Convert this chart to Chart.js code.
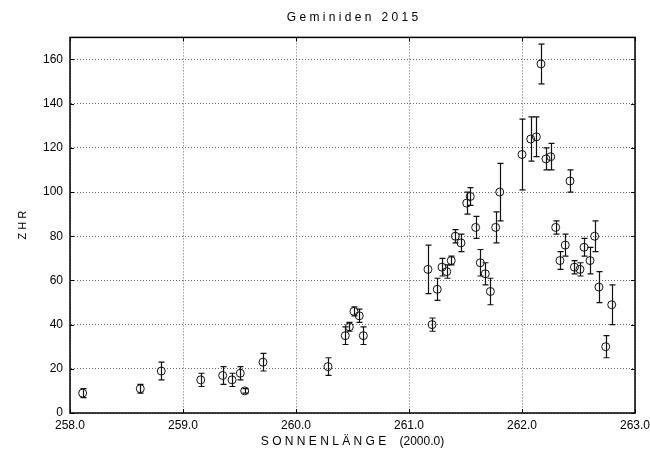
<!DOCTYPE html>
<html>
<head>
<meta charset="utf-8">
<script src="https://cdn.jsdelivr.net/npm/chart.js@4"></script>
<style>
  html, body { margin: 0; padding: 0; background: #fff; }
</style>
</head>
<body>
<canvas id="chart" width="650" height="451"></canvas>
<script>
// solar longitude (2000.0), ZHR and its error
const solarLong = [258.112, 258.622, 258.808, 259.157, 259.351, 259.434, 259.507, 259.546, 259.708,
  260.283, 260.436, 260.472, 260.513, 260.560, 260.596,
  261.168, 261.204, 261.250, 261.292, 261.334, 261.374, 261.410, 261.460, 261.511, 261.542,
  261.590, 261.631, 261.675, 261.720, 261.767, 261.803,
  262.000, 262.077, 262.127, 262.168, 262.212, 262.254, 262.298, 262.336, 262.383, 262.425,
  262.464, 262.513, 262.549, 262.602, 262.643, 262.681, 262.741, 262.794];
const zhr = [9, 11, 19, 15, 17, 15, 18, 10, 23,
  21, 35, 39, 46, 44, 35,
  65, 40, 56, 66, 64, 69, 80, 77, 95, 98,
  84, 68, 63, 55, 84, 100,
  117, 124, 125, 158, 115, 116, 84, 69, 76, 105,
  66, 65, 75, 69, 80, 57, 30, 49];
const zhrErr = [2, 2, 4, 3, 4, 3, 3, 1, 4,
  4, 4, 2, 2, 3, 4,
  11, 3, 5, 4, 3, 2, 3, 4, 5, 4,
  5, 6, 5, 6, 7, 13,
  16, 10, 9, 9, 5, 6, 3, 4, 5, 5,
  3, 3, 4, 6, 7, 7, 5, 9];
const xTicks = [258, 259, 260, 261, 262, 263];
const yTicks = [0, 20, 40, 60, 80, 100, 120, 140, 160];

const FONT = "'Liberation Sans', Arial, sans-serif";
const points = solarLong.map((x, i) => ({x: x, y: zhr[i]}));

// vertical error bars
const errorBars = {
  id: 'errorBars',
  afterDatasetsDraw(chart) {
    const ctx = chart.ctx;
    const xs = chart.scales.x, ys = chart.scales.y;
    ctx.save();
    ctx.strokeStyle = '#111';
    ctx.lineWidth = 1.2;
    points.forEach((p, i) => {
      const px = Math.round(xs.getPixelForValue(p.x)) + 0.5;
      const top = ys.getPixelForValue(p.y + zhrErr[i]);
      const bot = ys.getPixelForValue(p.y - zhrErr[i]);
      ctx.beginPath();
      ctx.moveTo(px, top); ctx.lineTo(px, bot);
      ctx.moveTo(px - 3, top); ctx.lineTo(px + 3, top);
      ctx.moveTo(px - 3, bot); ctx.lineTo(px + 3, bot);
      ctx.stroke();
    });
    ctx.restore();
  }
};

// box round the plot area with inward tick marks
const plotFrame = {
  id: 'plotFrame',
  afterDraw(chart) {
    const ctx = chart.ctx;
    const a = chart.chartArea;
    const xs = chart.scales.x, ys = chart.scales.y;
    ctx.save();
    ctx.strokeStyle = '#000';
    ctx.lineWidth = 1.5;
    ctx.strokeRect(a.left, a.top, a.right - a.left, a.bottom - a.top);
    ctx.lineWidth = 1;
    ctx.beginPath();
    xTicks.forEach(v => {
      const px = Math.round(xs.getPixelForValue(v)) + 0.5;
      ctx.moveTo(px, a.top); ctx.lineTo(px, a.top + 4);
      ctx.moveTo(px, a.bottom); ctx.lineTo(px, a.bottom - 4);
    });
    yTicks.forEach(v => {
      const py = Math.round(ys.getPixelForValue(v)) + 0.5;
      ctx.moveTo(a.left, py); ctx.lineTo(a.left + 4, py);
      ctx.moveTo(a.right, py); ctx.lineTo(a.right - 4, py);
    });
    ctx.stroke();
    ctx.restore();
  }
};

new Chart(document.getElementById('chart'), {
  type: 'scatter',
  data: {
    datasets: [{
      label: 'ZHR',
      data: points,
      pointStyle: 'circle',
      pointRadius: 4,
      pointHoverRadius: 4,
      borderColor: '#111',
      borderWidth: 1,
      backgroundColor: 'rgba(0,0,0,0)'
    }]
  },
  plugins: [errorBars, plotFrame],
  options: {
    responsive: false,
    animation: false,
    layout: { padding: { top: 0, right: 15, bottom: 0, left: 0 } },
    plugins: {
      legend: { display: false },
      tooltip: { enabled: false },
      title: {
        display: true,
        fullSize: false,
        text: 'G e m i n i d e n   2 0 1 5',
        color: '#000',
        font: { family: FONT, size: 12, weight: 'normal' },
        padding: { top: 10, bottom: 13 }
      }
    },
    scales: {
      x: {
        type: 'linear',
        min: 258, max: 263,
        afterBuildTicks: s => { s.ticks = xTicks.map(v => ({value: v})); },
        afterFit: s => { s.height = 38; s.paddingRight = 0; s.paddingLeft = 0; },
        ticks: {
          color: '#000',
          font: { family: FONT, size: 12 },
          padding: 5,
          maxRotation: 0,
          callback: v => v.toFixed(1)
        },
        grid: { color: '#666', lineWidth: 1, drawTicks: false },
        border: { display: true, color: 'rgba(0,0,0,0)', dash: [1, 2] },
        title: {
          display: true,
          text: 'S O N N E N L Ä N G E    (2000.0)',
          color: '#000',
          font: { family: FONT, size: 12 },
          padding: { top: 0, bottom: 2 }
        }
      },
      y: {
        min: 0, max: 170,
        afterBuildTicks: s => { s.ticks = yTicks.map(v => ({value: v})); },
        afterFit: s => { s.width = 70; },
        ticks: {
          color: '#000',
          font: { family: FONT, size: 12 },
          padding: 7,
          callback: v => String(v)
        },
        grid: { color: '#666', lineWidth: 1, drawTicks: false },
        border: { display: true, color: 'rgba(0,0,0,0)', dash: [1, 2] },
        title: {
          display: true,
          text: 'Z H R',
          color: '#000',
          font: { family: FONT, size: 11 },
          padding: { top: 16, bottom: 0 }
        }
      }
    }
  }
});
</script>
</body>
</html>
